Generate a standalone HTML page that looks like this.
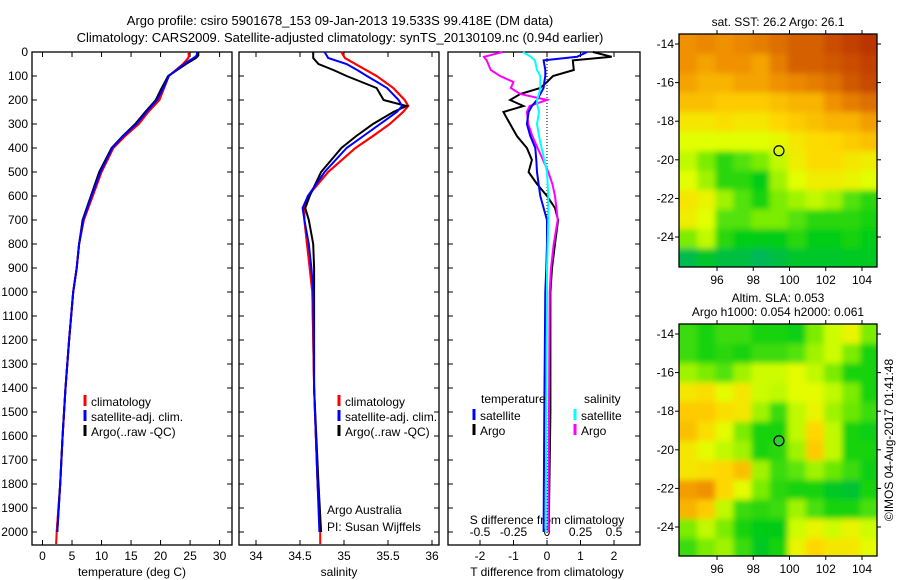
<!DOCTYPE html>
<html><head><meta charset="utf-8"><style>
body{margin:0;background:#fff}
svg{display:block;font-family:"Liberation Sans",sans-serif;font-size:12px}
</style></head><body>
<svg id="c" width="900" height="580" viewBox="0 0 900 580">
<text x="340" y="25" text-anchor="middle" font-size="13">Argo profile: csiro 5901678_153 09-Jan-2013 19.533S 99.418E (DM data)</text>
<text x="340" y="42" text-anchor="middle" font-size="13">Climatology: CARS2009. Satellite-adjusted climatology: synTS_20130109.nc (0.94d earlier)</text>
<g id="g"></g>
<text transform="translate(893,440) rotate(-90)" text-anchor="middle" font-size="12">©IMOS 04-Aug-2017 01:41:48</text>
</svg>
<script>
const depthT=[0,15,25,50,75,100,150,200,250,300,350,400,500,600,700,800,900,1000,1200,1400,1600,1800,2000];
const tempArgo=[26.4,26.4,26.0,24.3,22.8,21.3,20.2,19.2,17.4,15.7,13.6,11.7,9.6,8.2,6.8,6.2,5.8,5.2,4.5,3.9,3.4,3.0,2.5];
const tempClim=[24.7,24.8,24.7,23.8,22.6,21.4,20.6,19.8,17.9,16.3,14.0,12.0,10.0,8.5,7.0,6.2,5.8,5.2,4.5,3.9,3.4,3.0,2.4];
const tempSat=[26.2,26.1,25.6,24.0,22.7,21.4,20.5,19.4,17.6,15.9,13.7,11.8,9.8,8.3,6.9,6.2,5.8,5.2,4.5,3.9,3.4,3.0,2.5];
const depthS=[0,25,50,75,100,150,200,225,250,300,350,400,500,600,650,700,800,900,1000,1400,1800,2000];
const salArgo=[34.65,34.65,34.71,34.88,35.03,35.37,35.45,35.71,35.56,35.33,35.14,34.97,34.74,34.61,34.56,34.60,34.65,34.66,34.66,34.66,34.71,34.74];
const salClim=[34.97,35.01,35.13,35.25,35.37,35.56,35.69,35.73,35.67,35.52,35.33,35.13,34.82,34.59,34.55,34.55,34.58,34.61,34.64,34.66,34.70,34.73];
const salSat=[34.78,34.82,35.03,35.15,35.26,35.49,35.62,35.66,35.60,35.41,35.22,35.03,34.78,34.59,34.53,34.55,34.60,34.63,34.65,34.66,34.70,34.72];
const depthD=[0,20,35,75,100,125,150,175,200,225,250,300,350,400,450,500,550,600,650,700,800,900,1000,1500,2000];
const tdiffArgo=[1.37,1.93,0.77,0.8,0.18,0,-0.2,-0.8,-1.1,-0.7,-1.3,-1.1,-0.9,-0.6,-0.45,-0.55,-0.3,0,0.24,0.33,0.24,0.15,0.1,0.1,0.05];
const tdiffSat=[1.2,0.9,-0.1,-0.05,-0.05,-0.08,-0.1,-0.2,-0.3,-0.45,-0.55,-0.6,-0.5,-0.35,-0.32,-0.3,-0.25,-0.2,-0.1,0,0,-0.02,-0.05,-0.08,-0.1];
const sdiffArgo=[-0.33,-0.47,-0.45,-0.42,-0.35,-0.25,-0.27,-0.2,0,-0.13,-0.15,-0.14,-0.11,-0.07,-0.03,0.01,0.04,0.06,0.07,0.08,0.05,0.03,0.02,0.015,0.01];
const sdiffSat=[-0.18,-0.12,-0.09,-0.075,-0.05,-0.05,-0.05,-0.06,-0.075,-0.07,-0.06,-0.075,-0.06,-0.04,-0.02,0,0.005,0.01,0.01,0.01,0.005,0,0,-0.005,-0.01];
const depthTicks=[0,100,200,300,400,500,600,700,800,900,1000,1100,1200,1300,1400,1500,1600,1700,1800,1900,2000];
const tempTicks=[0,5,10,15,20,25,30];
const salTicks=[34,34.5,35,35.5,36];
const tdiffTicks=[-2,-1,0,1,2];
const sdiffTicks=[-0.5,-0.25,0,0.25,0.5];
const sdiffTickLabels=["-0.5","-0.25","0","0.25","0.5"];
const lonTicks=[96,98,100,102,104];
const latTicks=[-14,-16,-18,-20,-22,-24];
const sstGrid=[
[.78,.80,.78,.80,.82,.85,.88,.88,.92,.95,.97],
[.78,.75,.78,.78,.75,.82,.88,.88,.90,.92,.95],
[.75,.72,.72,.75,.75,.78,.80,.82,.85,.90,.93],
[.70,.70,.68,.68,.68,.70,.72,.72,.78,.82,.85],
[.62,.62,.64,.62,.62,.66,.68,.70,.72,.72,.76],
[.55,.55,.55,.55,.55,.57,.62,.65,.66,.68,.70],
[.50,.40,.30,.35,.40,.50,.60,.65,.65,.62,.60],
[.55,.45,.30,.30,.25,.45,.55,.60,.60,.58,.55],
[.62,.58,.45,.35,.28,.40,.45,.50,.45,.35,.30],
[.60,.55,.35,.35,.40,.40,.35,.30,.30,.30,.28],
[.40,.50,.30,.25,.25,.25,.30,.25,.25,.28,.25],
[.12,.20,.15,.15,.10,.15,.20,.20,.20,.22,.22]];
const slaGrid=[
[.32,.28,.32,.32,.28,.28,.26,.40,.52,.58,.40],
[.32,.28,.30,.28,.32,.32,.35,.45,.52,.40,.28],
[.45,.40,.35,.45,.52,.52,.56,.50,.40,.28,.28],
[.62,.64,.56,.62,.52,.50,.56,.56,.50,.40,.28],
[.68,.68,.64,.62,.45,.32,.50,.58,.45,.38,.32],
[.70,.64,.56,.40,.28,.28,.50,.66,.50,.28,.26],
[.62,.56,.50,.45,.28,.30,.45,.68,.50,.28,.28],
[.62,.64,.66,.70,.45,.32,.36,.45,.38,.32,.26],
[.76,.78,.66,.56,.40,.30,.28,.28,.22,.18,.28],
[.72,.68,.50,.32,.30,.32,.45,.34,.28,.28,.34],
[.40,.50,.40,.28,.24,.24,.52,.58,.52,.58,.52],
[.32,.40,.45,.32,.22,.28,.58,.66,.62,.62,.56]];
const argoPos=[99.418,-19.533];

const NS="http://www.w3.org/2000/svg";
const G=document.getElementById('g');
function mk(t,a,p){const e=document.createElementNS(NS,t);for(const k in a)e.setAttribute(k,a[k]);(p||G).appendChild(e);return e;}
const Y0=52,YB=545;
const yD=d=>Y0+d*0.24;
function xLin(v0,x0,v1,x1){return v=>x0+(v-v0)*(x1-x0)/(v1-v0);}
const xT=xLin(0,42.5,30,219.6);
const xS=xLin(34,256,36,432);
const xDT=xLin(0,547,2,614);
const xDS=v=>xDT(v*4);

function frame(x0,x1,name){
  const r=mk('rect',{x:x0,y:Y0,width:x1-x0,height:YB-Y0,fill:'none',stroke:'#000','stroke-width':1.3});
  
  
  depthTicks.forEach(d=>{mk('line',{x1:x0,x2:x0+5,y1:yD(d),y2:yD(d),stroke:'#000'});mk('line',{x1:x1,x2:x1-5,y1:yD(d),y2:yD(d),stroke:'#000'});});
}
function xticks(vals,fx,labels,name){
  vals.forEach((v,i)=>{const x=fx(v);
    mk('line',{x1:x,x2:x,y1:YB,y2:YB-5,stroke:'#000'});mk('line',{x1:x,x2:x,y1:Y0,y2:Y0+5,stroke:'#000'});
    const t=mk('text',{x:x,y:YB+15,'text-anchor':'middle'});t.textContent=labels?labels[i]:String(v);
    
    });
}
function line(ds,vs,fx,col,name,w){
  const pts=ds.map((d,i)=>fx(vs[i]).toFixed(1)+','+yD(d).toFixed(1)).join(' ');
  const p=mk('polyline',{points:pts,fill:'none',stroke:col,'stroke-width':w||2});
  
  
}
function txt(x,y,s,name,anchor){const t=mk('text',{x:x,y:y,'text-anchor':anchor||'start'});t.textContent=s;
  
  return t;}
function legend(x,y,col,s,name){mk('line',{x1:x,x2:x,y1:y-11,y2:y,stroke:col,'stroke-width':3});txt(x+6,y,s,name);}

depthTicks.forEach(d=>{txt(28,yD(d)+4,String(d),'depth-tick-label','end');});

frame(32,232,'temperature-panel');
xticks(tempTicks,xT,null,'temperature');
line(depthT,tempClim,xT,'#f00','temperature-climatology-line');
line(depthT.concat([2050]),tempClim.concat([2.3]),xT,'#f00','temperature-climatology-tail');
line(depthT,tempArgo,xT,'#000','temperature-argo-line');
line(depthT,tempSat,xT,'#00f','temperature-satellite-line');
txt(132,576,'temperature (deg C)','temperature-axis-title','middle');
legend(85,406,'#f00','climatology','legend-climatology');
legend(85,421,'#00f','satellite-adj. clim.','legend-satellite');
legend(85,436,'#000','Argo(..raw -QC)','legend-argo');

frame(239,439,'salinity-panel');
xticks(salTicks,xS,null,'salinity');
line(depthS,salClim,xS,'#f00','salinity-climatology-line');
line(depthS.concat([2050]),salClim.concat([34.73]),xS,'#f00','salinity-climatology-tail');
line(depthS,salArgo,xS,'#000','salinity-argo-line');
line(depthS,salSat,xS,'#00f','salinity-satellite-line');
txt(339,576,'salinity','salinity-axis-title','middle');
legend(339,406,'#f00','climatology','legend-climatology');
legend(339,421,'#00f','satellite-adj. clim.','legend-satellite');
legend(339,436,'#000','Argo(..raw -QC)','legend-argo');
txt(327,545-31,'Argo Australia','credit-line-1');
txt(327,545-14,'PI: Susan Wijffels','credit-line-2');

frame(448,640,'difference-panel');
tdiffTicks.forEach(v=>{const x=xDT(v);mk('line',{x1:x,x2:x,y1:YB,y2:YB-5,stroke:'#000'});txt(x,YB+15,String(v),'tdiff-tick-label','middle');});
sdiffTicks.forEach(v=>{const x=xDS(v);mk('line',{x1:x,x2:x,y1:Y0,y2:Y0+5,stroke:'#000'});});
sdiffTicks.forEach((v,i)=>{txt(xDS(v),536,sdiffTickLabels[i],'sdiff-tick-label','middle');});
txt(547,524,'S difference from climatology','sdiff-axis-title','middle');
txt(547,576,'T difference from climatology','tdiff-axis-title','middle');
mk('line',{x1:547,x2:547,y1:Y0,y2:YB,stroke:'#000','stroke-dasharray':'1,2'});
line(depthD,tdiffArgo,xDT,'#000','tdiff-argo-line');
line(depthD,sdiffArgo,xDS,'#f0f','sdiff-argo-line');
line(depthD,tdiffSat,xDT,'#00f','tdiff-satellite-line');
line(depthD,sdiffSat,xDS,'#0ff','sdiff-satellite-line');
txt(481,403,'temperature','legend-temperature-heading');
txt(584,403,'salinity','legend-salinity-heading');
legend(474,420,'#00f','satellite','legend-t-satellite');
legend(474,435,'#000','Argo','legend-t-argo');
legend(575,420,'#0ff','satellite','legend-s-satellite');
legend(575,435,'#f0f','Argo','legend-s-argo');

const cmapStops=[[0,[0,170,130]],[0.25,[0,205,20]],[0.42,[140,240,0]],[0.55,[225,255,0]],[0.66,[255,215,0]],[0.78,[240,145,0]],[1,[180,40,0]]];
function cmap(v){for(let i=1;i<cmapStops.length;i++){if(v<=cmapStops[i][0]){const [a,ca]=cmapStops[i-1],[b,cb]=cmapStops[i];const f=(v-a)/(b-a);return 'rgb('+ca.map((c,k)=>Math.round(c+(cb[k]-c)*f)).join(',')+')';}}return 'rgb(180,40,0)';}
let fid=0;
function map(top,bot,grid,name,title1,title2,circleFill){
  const L=679,R=877;
  const xL=xLin(96,717,104,862), yL=xLin(-14,top+10,-24,top+203);
  const cid='clip'+(fid++);
  const defs=mk('defs',{});
  const cp=mk('clipPath',{id:cid},defs);mk('rect',{x:L,y:top,width:R-L,height:bot-top},cp);
  const f=mk('filter',{id:'b'+cid,x:'-10%',y:'-10%',width:'120%',height:'120%'},defs);
  mk('feGaussianBlur',{stdDeviation:3},f);
  const g=mk('g',{'clip-path':'url(#'+cid+')'});
  
  
  const gb=mk('g',{filter:'url(#b'+cid+')'},g);
  const nr=grid.length,nc=grid[0].length;
  const lonW=(104.9-93.9)/nc, latH=(25.6-13.5)/nr;
  grid.forEach((row,r)=>row.forEach((v,c)=>{
    const x0=xL(93.9+c*lonW),x1=xL(93.9+(c+1)*lonW),y0=yL(-13.5-r*latH),y1=yL(-13.5-(r+1)*latH);
    const pad=12;
    const cell=mk('rect',{x:x0-(c==0?pad:0),y:y0-(r==0?pad:0),width:x1-x0+1+(c==0||c==nc-1?pad:0),height:y1-y0+1+(r==0||r==nr-1?pad:0),fill:cmap(v)},gb);
    
    
  }));
  const fr=mk('rect',{x:L,y:top,width:R-L,height:bot-top,fill:'none',stroke:'#000','stroke-width':1.3});
  
  
  lonTicks.forEach(v=>{const x=xL(v);mk('line',{x1:x,x2:x,y1:bot,y2:bot+4,stroke:'#000'});mk('line',{x1:x,x2:x,y1:top,y2:top-4,stroke:'#000'});txt(x,bot+17,String(v),name+'-lon-label','middle');});
  latTicks.forEach(v=>{const y=yL(v);mk('line',{x1:L,x2:L-4,y1:y,y2:y,stroke:'#000'});mk('line',{x1:R,x2:R+4,y1:y,y2:y,stroke:'#000'});txt(L-5,y+4,String(v),name+'-lat-label','end');});
  const ci=mk('circle',{cx:xL(argoPos[0]),cy:yL(argoPos[1]),r:5,fill:circleFill,stroke:'#000','stroke-width':1.2});
  
  
  if(title2){txt(778,top-22,title1,name+'-title-1','middle');txt(778,top-8,title2,name+'-title-2','middle');}
  else txt(778,top-8,title1,name+'-title','middle');
}
map(34,267,sstGrid,'sst-map','sat. SST: 26.2 Argo: 26.1',null,'none');
map(324,556,slaGrid,'sla-map','Altim. SLA: 0.053','Argo h1000: 0.054 h2000: 0.061','#3c3');
</script>
</body></html>
